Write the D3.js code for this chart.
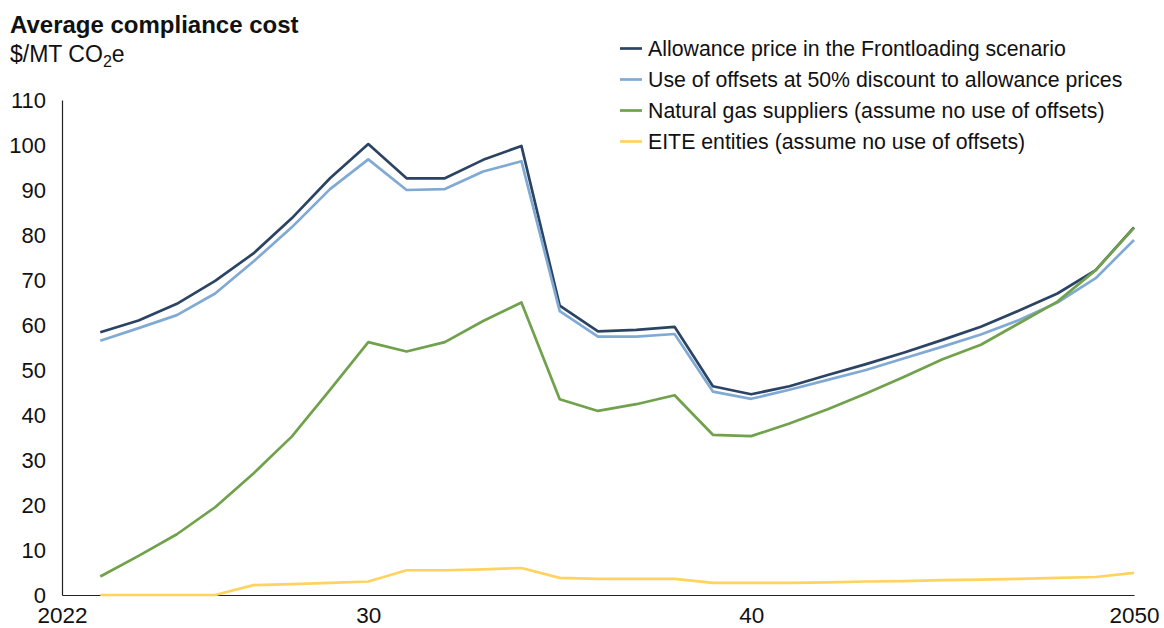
<!DOCTYPE html>
<html><head><meta charset="utf-8">
<script src="https://cdn.jsdelivr.net/npm/d3@7"></script>
<style>body{margin:0;background:#fff}svg{display:block}text{font-family:"Liberation Sans",Arial,sans-serif;fill:#111}</style>
</head><body><svg id="c" width="1164" height="628"></svg>
<script>
const years = d3.range(2023, 2051);
const allowance = [58.4,61.0,64.7,69.8,75.9,83.7,92.6,100.2,92.6,92.6,96.7,99.8,64.3,58.6,58.9,59.6,46.4,44.6,46.4,48.9,51.3,53.9,56.7,59.6,63.2,67.0,72.2,81.7];
const offsets   = [56.5,59.3,62.2,67.0,74.1,81.7,90.2,96.8,90.0,90.2,94.1,96.4,63.1,57.4,57.4,58.0,45.2,43.6,45.6,47.8,50.0,52.6,55.2,57.9,61.1,65.0,70.4,78.9];
const natgas    = [4.1,8.7,13.5,19.5,27.0,35.2,45.6,56.2,54.1,56.2,60.9,65.0,43.5,40.9,42.4,44.4,35.6,35.3,38.1,41.3,44.8,48.5,52.4,55.6,60.4,65.2,72.2,81.6];
const eite      = [0,0,0,0,2.2,2.4,2.7,3.0,5.5,5.5,5.7,6.0,3.8,3.6,3.6,3.6,2.7,2.7,2.7,2.8,3.0,3.1,3.3,3.4,3.6,3.8,4.0,4.9];
const seriesNames = ["Allowance price in the Frontloading scenario","Use of offsets at 50% discount to allowance prices","Natural gas suppliers (assume no use of offsets)","EITE entities (assume no use of offsets)"];
const seriesColors = ["#2c4464","#80aad3","#70a14b","#ffd35e"];
const yTicks = [0,10,20,30,40,50,60,70,80,90,100,110];
const xTicks = [2022,2030,2040,2050];
const xTickLabels = ["2022","30","40","2050"];

const svg = d3.select("#c");
const x = d3.scaleLinear().domain([2022,2050]).range([62,1134]);
const y = d3.scaleLinear().domain([0,110]).range([595,100]);

// title
svg.append("text").attr("x",10).attr("y",33).attr("font-size",24).attr("font-weight","bold").text("Average compliance cost");
const sub = svg.append("text").attr("x",10).attr("y",62).attr("font-size",23);
sub.append("tspan").text("$/MT CO");
sub.append("tspan").attr("font-size",16).attr("dy",5).text("2");
sub.append("tspan").attr("dy",-5).text("e");

// y axis
const ya = svg.append("g").attr("transform","translate(62,0)")
  .call(d3.axisLeft(y).tickValues(yTicks).tickSize(0).tickPadding(16));
ya.select(".domain").attr("stroke","#222").attr("stroke-width",1.2);
ya.selectAll("text").attr("font-size",22).attr("fill","#111").attr("font-family","Liberation Sans, Arial, sans-serif");

// x axis
const xa = svg.append("g").attr("transform","translate(0,595)")
  .call(d3.axisBottom(x).tickValues(xTicks).tickFormat((d,i)=>xTickLabels[i]).tickSize(0).tickPadding(12));
xa.select(".domain").attr("stroke","#222").attr("stroke-width",1.2);
xa.selectAll("text").attr("font-size",22.5).attr("fill","#111").attr("font-family","Liberation Sans, Arial, sans-serif");

// lines
const data = [allowance, offsets, natgas, eite];
const line = d3.line().x((d,i)=>x(years[i])).y(d=>y(d));
data.forEach((s,k)=>{
  svg.append("path").datum(s).attr("d",line).attr("fill","none")
    .attr("stroke",seriesColors[k]).attr("stroke-width",2.7).attr("stroke-linejoin","round");
});

// legend
const lg = svg.append("g");
seriesNames.forEach((n,k)=>{
  const yy = 48.5 + k*31;
  lg.append("line").attr("x1",620).attr("x2",642).attr("y1",yy).attr("y2",yy)
    .attr("stroke",seriesColors[k]).attr("stroke-width",2.7);
  lg.append("text").attr("x",648).attr("y",yy).attr("dy","0.35em").attr("font-size",21.3).text(n);
});
</script></body></html>
